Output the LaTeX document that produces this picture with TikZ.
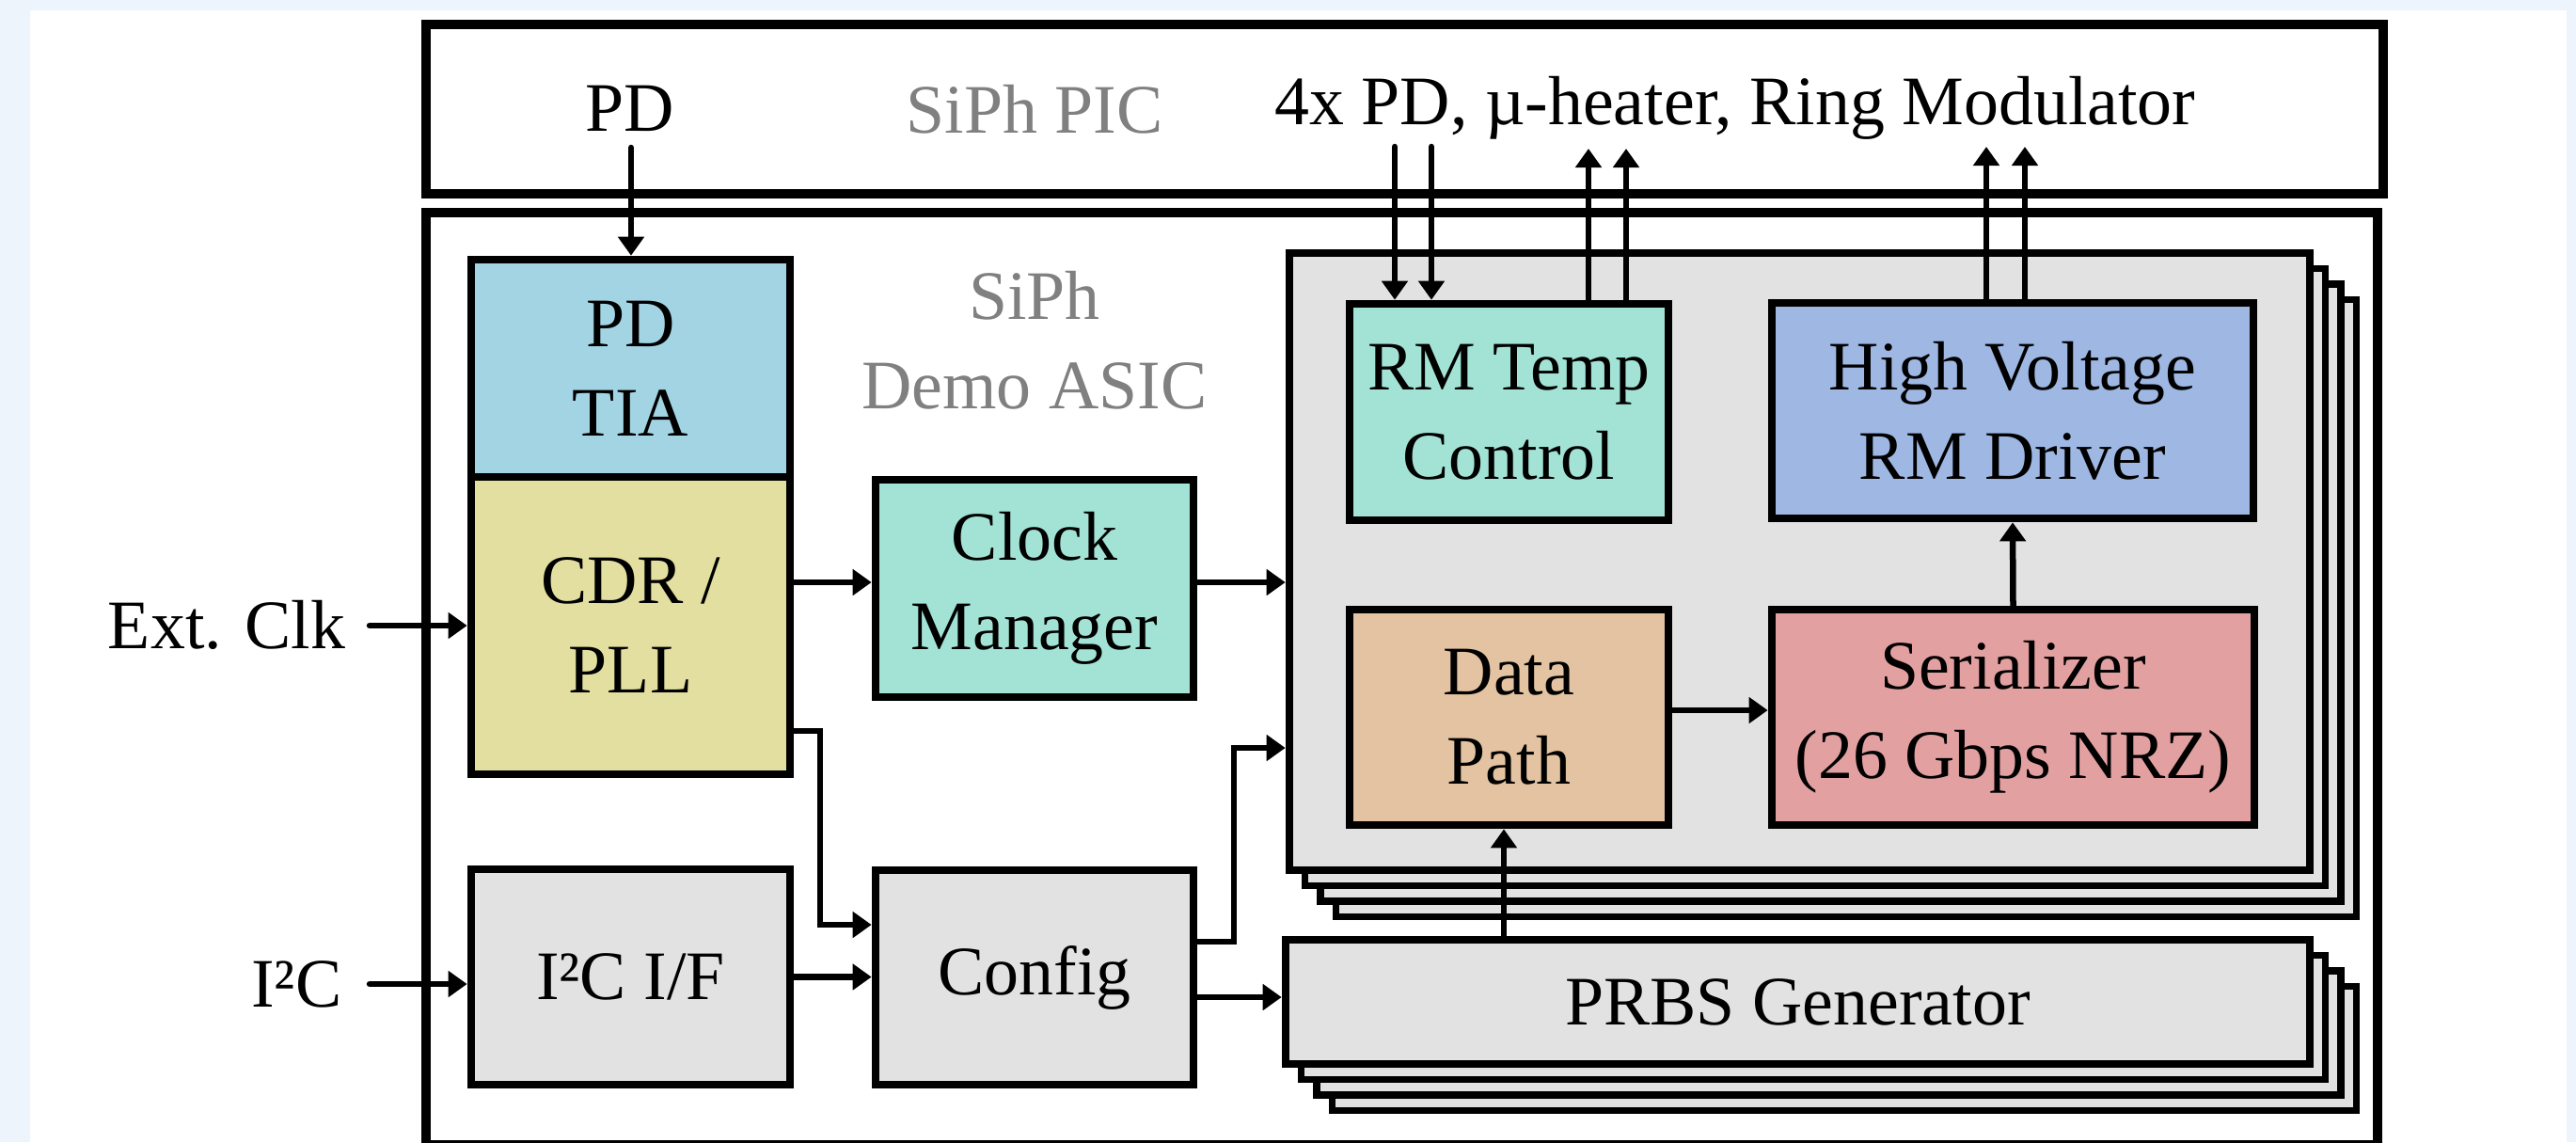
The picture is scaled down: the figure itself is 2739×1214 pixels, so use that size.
\documentclass[tikz,border=0pt]{standalone}
\usepackage{fontspec}
\setmainfont{Liberation Serif}
\usetikzlibrary{arrows.meta}
\definecolor{bgblue}{HTML}{EDF4FC}
\definecolor{labgray}{HTML}{808080}
\definecolor{cTIA}{HTML}{A2D4E3}
\definecolor{cCDR}{HTML}{E3DFA0}
\definecolor{cClk}{HTML}{A2E3D6}
\definecolor{cHV}{HTML}{9EB7E3}
\definecolor{cDP}{HTML}{E3C3A1}
\definecolor{cSer}{HTML}{E3A0A1}
\definecolor{cGray}{HTML}{E2E2E2}
\begin{document}
\begin{tikzpicture}[x=0.01cm,y=-0.01cm,
  font=\fontsize{21}{27}\selectfont,
  box/.style={draw=black, line width=0.085cm, inner sep=0pt, align=center},
  layer/.style={draw=black, fill=cGray, line width=0.075cm},
  outerbox/.style={draw=black, line width=0.1cm},
  arr/.style={draw=black, line width=0.065cm, line cap=round, -{Triangle[length=0.2cm,width=0.27cm]}}]
\useasboundingbox (0,0) rectangle (2739,1214);
\fill[bgblue] (0,0) rectangle (2739,1214);
\fill[white] (32,11) rectangle (2729,1214);
\begin{scope}
\clip (0,0) rectangle (2739,1214);
\draw[outerbox] (453,26) rectangle (2534,206);
\draw[outerbox] (453,226) rectangle (2528,1217);
\end{scope}

% labels
\node[anchor=base] (pdl) at (670,139) {PD};
\node[anchor=base, text=labgray] (picl) at (1100,141) {SiPh PIC};
\node[anchor=base] (pics) at (1845,132) {4x PD, µ-heater, Ring Modulator};
\node[text=labgray, align=center, inner sep=0pt] (asicl) at (1100,362) {SiPh\\Demo ASIC};
\node[anchor=base east, inner sep=0pt] (extl) at (368,689) {Ext. Clk};
\node[anchor=base east, inner sep=0pt] (i2cl) at (364,1070) {I²C};

% left column
\node[box, fill=cCDR, minimum width=3.39cm, minimum height=3.16cm] (cdr) at (670.5,665) {CDR /\\PLL};
\node[box, fill=cTIA, minimum width=3.39cm, minimum height=2.31cm] (tia) at (670.5,391.5) {PD\\TIA};
\node[box, fill=cGray, minimum width=3.39cm, minimum height=2.29cm] (i2cif) at (670.5,1038.5) {I²C I/F};
\node[box, fill=cClk, minimum width=3.38cm, minimum height=2.31cm] (clk) at (1100,625.5) {Clock\\Manager};
\node[box, fill=cGray, minimum width=3.38cm, minimum height=2.28cm] (config) at (1100,1039) {Config};

% big stacked block
\foreach \d in {49.5,33,16.5} {
  \draw[layer] (1371+\d,269+\d) rectangle (2456+\d,925+\d);
}
\node[box, fill=cGray, line width=0.08cm, minimum width=10.85cm, minimum height=6.56cm] (big) at (1913.5,597) {};
\node[box, fill=cClk, minimum width=3.39cm, minimum height=2.30cm] (rmt) at (1604.5,438) {RM Temp\\Control};
\node[box, fill=cHV, minimum width=5.12cm, minimum height=2.29cm] (hv) at (2140,436.5) {High Voltage\\RM Driver};
\node[box, fill=cDP, minimum width=3.39cm, minimum height=2.29cm] (dp) at (1604.5,762.5) {Data\\Path};
\node[box, fill=cSer, minimum width=5.13cm, minimum height=2.29cm] (ser) at (2140.5,762.5) {Serializer\\(26 Gbps NRZ)};

% PRBS stacked block
\foreach \d in {49.5,33,16.5} {
  \draw[layer] (1367+\d,999+\d) rectangle (2456+\d,1131+\d);
}
\node[box, fill=cGray, line width=0.08cm, minimum width=10.89cm, minimum height=1.32cm] (prbs) at (1911.5,1065) {PRBS Generator};

% coordinates for connector ends / bends
\coordinate (pdin) at (671,157);
\coordinate (extin) at (393,665);
\coordinate (i2cin) at (393,1046);
\coordinate (yclk) at (0,619);
\coordinate (j1) at (872,777);
\coordinate (j2) at (872,983);
\coordinate (j3) at (1312,1001);
\coordinate (j4) at (1312,795);
\coordinate (yprbs) at (0,1060);
\coordinate (ydp) at (0,755);
\coordinate (xprbs) at (1599,0);
\coordinate (t1) at (1483,156);
\coordinate (t2) at (1522,156);
\coordinate (u1) at (1689,158);
\coordinate (u2) at (1729,158);
\coordinate (h1) at (2112,156);
\coordinate (h2) at (2153,156);

% connectors
\draw[arr] (pdin) -- (pdin |- tia.north);
\draw[arr] (extin) -- (extin -| cdr.west);
\draw[arr] (i2cin) -- (i2cin -| i2cif.west);
\draw[arr] (cdr.east |- yclk) -- (clk.west |- yclk);
\draw[arr] (clk.east |- yclk) -- (big.west |- yclk);
\draw[arr] (cdr.east |- j1) -- (j1) -- (j2) -- (config.west |- j2);
\draw[arr] (i2cif.east) -- (i2cif.east -| config.west);
\draw[arr] (config.east |- j3) -- (j3) -- (j4) -- (big.west |- j4);
\draw[arr] (config.east |- yprbs) -- (prbs.west |- yprbs);
\draw[arr] (dp.east |- ydp) -- (ser.west |- ydp);
\draw[arr] (ser.north) -- (hv.south);
\draw[arr] (xprbs |- prbs.north) -- (xprbs |- dp.south);
\draw[arr] (t1) -- (t1 |- rmt.north);
\draw[arr] (t2) -- (t2 |- rmt.north);
\draw[arr] (u1 |- rmt.north) -- (u1);
\draw[arr] (u2 |- rmt.north) -- (u2);
\draw[arr] (h1 |- hv.north) -- (h1);
\draw[arr] (h2 |- hv.north) -- (h2);
\end{tikzpicture}
\end{document}
